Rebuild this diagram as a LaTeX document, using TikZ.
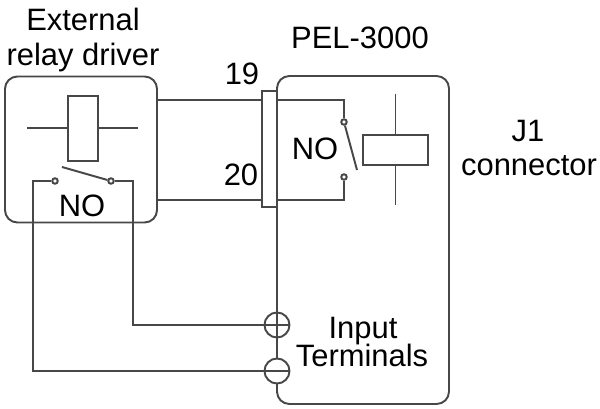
\documentclass[tikz,border=0pt]{standalone}
\usepackage{fontspec}
\setmainfont{Liberation Sans}
\usetikzlibrary{positioning}

\tikzset{
  wire/.style={draw=black!72,line width=1.1pt},
  box/.style={wire,rectangle,rounded corners=7pt,inner sep=0pt},
  coil/.style={wire,rectangle,fill=white,inner sep=0pt},
  contact/.style={wire,circle,fill=white,inner sep=0pt,minimum size=0.11cm},
  terminal/.style={wire,circle,fill=white,inner sep=0pt,minimum size=0.5cm},
  label/.style={inner sep=0pt,anchor=base,text=black,font=\fontsize{17.6}{20}\selectfont}
}

\begin{document}
\begin{tikzpicture}[x=0.02cm,y=-0.02cm]
\useasboundingbox (0,0) rectangle (600,409);

% boxes
\node[box,minimum width=3.04cm,minimum height=2.92cm] (D) at (81,149.5) {};
\node[box,minimum width=3.44cm,minimum height=6.56cm] (P) at (363,240) {};
\node[coil,minimum width=0.3cm,minimum height=2.32cm] (J) at (269.5,149) {};

% driver side
\node[coil,minimum width=0.6cm,minimum height=1.3cm] (A) at (83,128.2) {};
\coordinate (A1) at (27,128.2);
\coordinate (A2) at (138,128.2);
\node[contact] (B) at (55,181) {};
\node[contact] (C) at (111,181) {};
\coordinate (B1) at (62,167);
\coordinate (L1) at (33,181);
\coordinate (L2) at (133,181);

% PEL side
\node[coil,minimum width=1.3cm,minimum height=0.6cm] (K) at (395.5,150) {};
\coordinate (K1) at (395.5,94);
\coordinate (K2) at (395.5,205);
\node[contact] (E) at (344,122) {};
\node[contact] (F) at (344,177) {};
\coordinate (F1) at (357,170);

% wires 19 and 20
\coordinate (W1) at (157,100);
\coordinate (W2) at (262,100);
\coordinate (W3) at (277,100);
\coordinate (W4) at (157,199.8);
\coordinate (W5) at (262,199.8);
\coordinate (W6) at (277,199.8);

% input terminals
\node[terminal] (T) at (277,325) {};
\node[terminal] (M) at (277,371) {};

\draw[wire] (A1) -- (A.west);
\draw[wire] (A.east) -- (A2);
\draw[wire] (B1) -- (C);
\draw[wire] (B) -- (L1) |- (M);
\draw[wire] (C) -- (L2) |- (T);
\draw[wire] (K1) -- (K.north);
\draw[wire] (K.south) -- (K2);
\draw[wire] (E) -- (F1);
\draw[wire] (W1) -- (W2);
\draw[wire] (W4) -- (W5);
\draw[wire] (W3) -| (E);
\draw[wire] (W6) -| (F);
\draw[wire] (T.west) -- (T.east);
\draw[wire] (T.north) -- (T.south);
\draw[wire] (M.west) -- (M.east);

% texts
\node[label] (N1) at (83,31) {External};
\node[label] (N2) at (83,66) {relay driver};
\node[label] (N3) at (360,49) {PEL-3000};
\node[label] (N4) at (242,85) {19};
\node[label] (N5) at (241,186) {20};
\node[label] (N6) at (82,216) {NO};
\node[label] (N7) at (315,159) {NO};
\node[label] (N8) at (528,142) {J1};
\node[label] (N9) at (529,175) {connector};
\node[label] (N10) at (363,338) {Input};
\node[label] (N11) at (362,367) {Terminals};

\end{tikzpicture}
\end{document}
